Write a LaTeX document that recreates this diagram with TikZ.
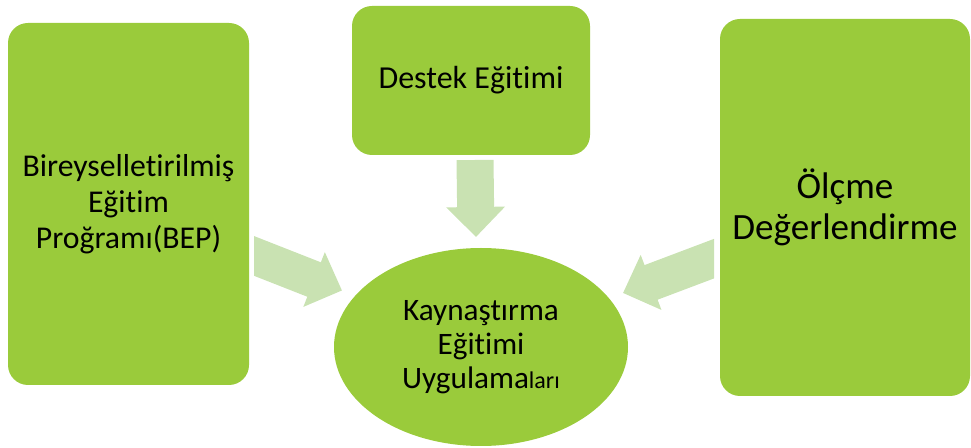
\documentclass[tikz,border=0pt]{standalone}
\usepackage{fontspec}
\setmainfont{Carlito}[Ligatures=NoCommon]
\usetikzlibrary{arrows.meta,shapes.geometric}
\definecolor{boxgreen}{HTML}{9ACB3B}
\definecolor{arrgreen}{HTML}{C9E2B2}
\begin{document}
\begin{tikzpicture}[x=0.75pt,y=-0.75pt,
  box/.style={fill=boxgreen, rounded corners=15pt, inner sep=0pt, align=center, text=black},
  conn/.style={draw=arrgreen, line width=27.75pt, -{Triangle[width=42.75pt,length=22.5pt]}}]
\useasboundingbox (0,0) rectangle (971,448);
% nodes
\node[box, minimum width=180.75pt, minimum height=271.5pt,
      font=\fontsize{23.8}{27}\selectfont] (bep) at (128.5,204)
      {Bireyselletirilmiş\\Eğitim\\Proğramı(BEP)};
\node[box, minimum width=178.5pt, minimum height=111.75pt,
      font=\fontsize{24}{27}\selectfont] (destek) at (471,80.5)
      {Destek Eğitimi};
\node[box, minimum width=187.5pt, minimum height=282.75pt,
      font=\fontsize{27.8}{31}\selectfont] (olcme) at (845,207.5)
      {Ölçme\\Değerlendirme};
\node[box, shape=ellipse, minimum width=220.5pt, minimum height=148.5pt,
      font=\fontsize{23.4}{25.5}\selectfont] (kay) at (481,347)
      {Kaynaştırma\\Eğitimi\\Uygulama{\fontsize{18}{20}\selectfont ları}};
% connector end points
\coordinate (d1) at (475,160);
\coordinate (d2) at (476,237);
\coordinate (l1) at (243,251.6);
\coordinate (l2) at (342,290.5);
\coordinate (r1) at (725,254.5);
\coordinate (r2) at (623,293);
% connectors
\draw[conn] (d1) -- (d2);
\begin{scope}
  \clip (254,0) rectangle (480,448);
  \draw[conn] (l1) -- (l2);
\end{scope}
\begin{scope}
  \clip (500,0) rectangle (714,448);
  \draw[conn] (r1) -- (r2);
\end{scope}
\end{tikzpicture}
\end{document}
